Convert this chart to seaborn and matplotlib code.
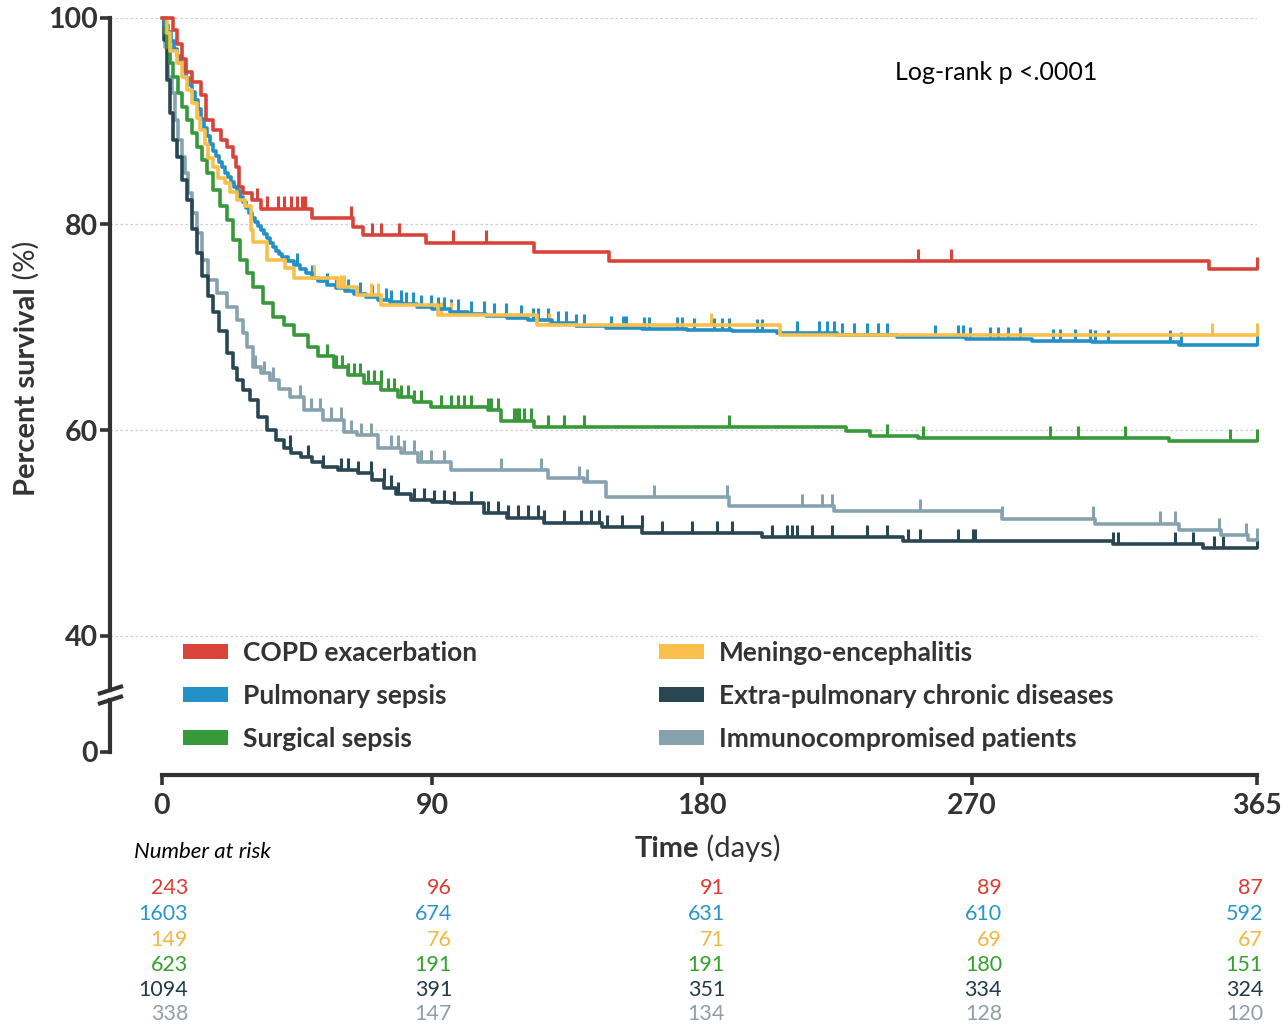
import numpy as np
import pandas as pd
import matplotlib
matplotlib.use("Agg")
import matplotlib.pyplot as plt
from matplotlib.patches import Patch
from matplotlib.lines import Line2D
import seaborn as sns

# ------------------------------------------------------------------ data
groups = ["COPD exacerbation", "Pulmonary sepsis", "Meningo-encephalitis",
          "Surgical sepsis", "Extra-pulmonary chronic diseases",
          "Immunocompromised patients"]
line_colors = ["#D9443A", "#2391C8", "#F8C04A", "#37993A", "#284753", "#87A2AF"]
text_colors = ["#DE3B32", "#2A95CB", "#F0B942", "#36A02E", "#213B47", "#939EA4"]

# Kaplan-Meier step curves (day, percent survival)
copd_t = [0, 3.5, 5, 6.5, 8, 10, 13, 14.5, 17, 19.5, 21.5, 23.5, 24.5, 25.5, 27,
          30, 33, 50, 63.5, 67, 88, 124, 149, 349, 365]
copd_s = [100, 98.8, 97.5, 96.0, 94.8, 93.8, 92.5, 90.1, 89.1, 88.2, 87.5, 86.5,
          85.5, 83.6, 83.0, 82.3, 81.5, 80.6, 79.7, 78.9, 78.2, 77.3, 76.4, 75.6, 75.6]
copd_cens = [31.8, 35, 38.5, 40.5, 43, 45, 46.8, 47.8, 63, 70, 73, 79, 97, 108,
             252, 263, 365]

pulm_t = [0, 1, 2, 3, 4, 5, 6, 7, 8, 9, 10, 11, 12, 13, 14, 15, 16, 17, 18, 19,
          20, 21, 22, 23, 24, 25, 26, 27, 28, 29, 30, 31, 32, 33, 34, 35, 36, 37,
          38, 39, 40, 42, 44, 46, 48, 50, 52, 55, 58, 61, 64, 68, 72, 76, 80, 85,
          90, 96, 102, 108, 115, 122, 130, 138, 148, 160, 175, 190, 205, 225, 245,
          268, 290, 310, 339, 365]
pulm_s = [100, 99.3, 98.6, 97.8, 97.0, 96.3, 95.6, 94.9, 94.2, 93.5, 92.8, 92.0,
          91.2, 90.2, 89.3, 88.5, 87.8, 87.1, 86.6, 86.0, 85.5, 85.0, 84.6, 84.1,
          83.6, 83.2, 82.6, 82.1, 81.6, 81.1, 80.6, 80.2, 79.8, 79.4, 79.0, 78.6,
          78.2, 77.8, 77.4, 77.1, 76.8, 76.4, 76.0, 75.6, 75.2, 74.8, 74.5, 74.1,
          73.8, 73.5, 73.2, 72.9, 72.6, 72.4, 72.2, 71.9, 71.7, 71.5, 71.3, 71.1,
          70.9, 70.7, 70.4, 70.1, 69.9, 69.8, 69.7, 69.6, 69.4, 69.2, 69.0, 68.8,
          68.6, 68.5, 68.3, 68.3]
pulm_cens = [45, 50, 55, 58, 62, 66, 70, 74.6, 76.3, 79.6, 81.3, 83.6, 86.3, 89.6,
             92, 94, 96.3, 98.7, 103, 107.4, 110.7, 114.7, 119.7, 123.7, 125.4,
             128.8, 132, 134.8, 138.1, 140.5, 149.8, 153.8, 154.8, 160.5, 162.2,
             171.6, 173.2, 177.2, 183.9, 186.6, 189, 198.3, 200, 211.7, 219, 221.7,
             224, 226.8, 230.8, 235.1, 238.5, 241.8, 257.5, 265.2, 266.9, 269.2,
             275.9, 278.6, 281.9, 286, 297.1, 299.4, 304.4, 309.4, 311.1, 315.4,
             336.1, 339.5, 365]

men_t = [0, 1.7, 2.7, 5, 6.7, 8.4, 10, 11.7, 12.7, 14.4, 15.4, 17, 18.7, 21, 22.7,
         25, 27.8, 29.5, 30.4, 35, 41, 44, 58.5, 65, 73, 92, 125, 206, 365]
men_s = [100, 98.5, 96.8, 95.6, 94.3, 93.0, 91.7, 90.3, 89.1, 87.8, 86.4, 85.5,
         84.5, 84.0, 83.1, 82.3, 81.7, 79.4, 78.3, 76.5, 75.7, 74.8, 73.9, 73.1,
         72.1, 71.2, 70.2, 69.2, 69.2]
men_cens = [50.5, 59.5, 60.5, 69.5, 72, 93, 96.3, 129, 183, 350, 365]

surg_t = [0, 1, 1.7, 2.7, 3.7, 5.4, 6.7, 8.4, 10, 11.7, 13.4, 15, 17, 19.4, 21.7,
          23.7, 26, 28.4, 30.4, 33.8, 37.1, 40.5, 44, 48.5, 52, 57.2, 62, 67.2, 73,
          78.6, 84, 89.6, 108.7, 113, 124, 228, 236, 252, 335.5, 365]
surg_s = [100, 98.5, 97.2, 95.6, 94.3, 92.7, 91.4, 90.1, 88.8, 87.5, 86.2, 85.0,
          83.3, 81.7, 80.4, 78.4, 76.5, 75.2, 73.9, 72.3, 71.0, 70.2, 69.2, 68.1,
          67.2, 66.1, 65.3, 64.6, 63.9, 63.2, 62.7, 62.2, 61.9, 60.9, 60.3, 59.9,
          59.4, 59.2, 58.9, 58.9]
surg_cens = [55, 58, 60, 62, 64, 66, 68.6, 70.6, 72.9, 75.3, 77.3, 79.6, 81.9, 84,
             86.3, 93, 96.3, 98.7, 100.7, 103, 108.7, 109.7, 112, 117.4, 118.2, 119,
             120.7, 123, 128.8, 134.1, 140.8, 189, 241.8, 253.5, 296, 305.4, 321,
             356, 365]

extra_t = [0, 0.5, 1.7, 2.7, 3.7, 5, 6.7, 8.4, 10, 11.7, 13.4, 15.4, 17, 19, 21.7,
           23.5, 25, 27, 29.4, 32, 35, 38, 40.5, 43, 46.2, 50, 53.8, 58.5, 65.2, 70,
           74, 78, 83, 90, 96.3, 107.4, 115, 127.4, 146.5, 160, 200, 247, 317, 347,
           365]
extra_s = [100, 97.9, 94.0, 90.8, 88.2, 86.5, 84.3, 82.3, 79.5, 77.2, 75.0, 73.0,
           71.5, 69.6, 67.5, 66.0, 64.9, 63.9, 62.9, 61.3, 60.0, 59.0, 58.3, 57.8,
           57.4, 56.9, 56.4, 56.1, 55.8, 55.1, 54.4, 53.8, 53.2, 53.0, 52.9, 51.9,
           51.5, 51.0, 50.6, 50.0, 49.6, 49.2, 48.9, 48.5, 48.5]
extra_cens = [42.8, 48.5, 53.8, 59.5, 61.9, 65.2, 69.6, 73.9, 76.3, 78.6, 84, 87.3,
              90.6, 94, 97.3, 103, 108.7, 112, 115.4, 118.7, 122, 125.4, 127.4,
              134.1, 139.8, 143.1, 145.5, 148.2, 153.2, 159.9, 166.6, 176.6, 185,
              190, 203.3, 208.4, 210, 211.7, 216.7, 223.4, 235.1, 241.8, 248.5,
              252.5, 265.2, 270.2, 270.9, 317, 318.7, 337.8, 343.8, 350.5, 353.8, 365]

immuno_t = [0, 1, 2, 3.3, 4.3, 5.4, 6.7, 7.7, 8.7, 10, 11.7, 13.4, 15.4, 18.4,
            21.7, 25, 27, 28.4, 30.4, 33, 36, 39, 42.8, 47.2, 53.8, 60.5, 65, 71.9,
            79.6, 85.3, 96.3, 128.8, 140.8, 148, 189, 224, 280, 311, 339, 353, 362,
            365]
immuno_s = [100, 97.2, 94.3, 92.7, 90.1, 88.2, 86.5, 85.0, 83.0, 81.1, 79.1, 76.5,
            74.6, 73.3, 71.9, 70.7, 69.4, 68.1, 66.1, 65.5, 64.9, 64.0, 63.2, 61.9,
            61.0, 59.8, 59.5, 58.3, 57.8, 56.9, 56.1, 55.3, 55.0, 53.5, 52.6, 52.1,
            51.4, 50.9, 50.3, 49.8, 49.3, 49.3]
immuno_cens = [31, 34, 37, 46, 49.5, 52.8, 56.2, 59.5, 62.9, 66.2, 69.6, 76.3, 78.6,
               80.6, 84, 86.3, 89.6, 94, 113, 126.4, 139, 141.5, 163.9, 188.3, 213.4,
               220, 223.4, 252.5, 280, 310.4, 332.8, 337.8, 352.2, 361.2, 365]

# Number at risk
risk_days = [0, 90, 180, 270, 365]
risk_copd = [243, 96, 91, 89, 87]
risk_pulm = [1603, 674, 631, 610, 592]
risk_men = [149, 76, 71, 69, 67]
risk_surg = [623, 191, 191, 180, 151]
risk_extra = [1094, 391, 351, 334, 324]
risk_immuno = [338, 147, 134, 128, 120]

x_ticks = [0, 90, 180, 270, 365]
y_ticks_top = [40, 60, 80, 100]
y_ticks_bottom = [0]
pvalue_label = "Log-rank p <.0001"

# ------------------------------------------------------------------ style
sns.set_theme(style="white")
FONT = "Lato"
plt.rcParams["font.family"] = [FONT, "DejaVu Sans"]
DARK = "#333333"

W, H = 1284, 1027
fig = plt.figure(figsize=(W / 100, H / 100), dpi=100)


def fx(px):
    return px / W


def fy(py):
    return 1 - py / H


# pixel layout
SPINE_X, ZERO_X, END_X = 110, 162, 1257
TOP_Y, TOPAX_BOT, BOTAX_TOP, ZERO_Y = 18, 690, 700, 752
PX_PER_PCT = 10.3
XAXIS_OFFSET_PX = 23

x_left = -(ZERO_X - SPINE_X) * 365 / (END_X - ZERO_X)

ax = fig.add_axes([fx(SPINE_X), fy(TOPAX_BOT), (END_X - SPINE_X) / W,
                   (TOPAX_BOT - TOP_Y) / H])
ax2 = fig.add_axes([fx(SPINE_X), fy(ZERO_Y), (END_X - SPINE_X) / W,
                    (ZERO_Y - BOTAX_TOP) / H])
for a in (ax, ax2):
    a.set_facecolor("none")
    a.set_xlim(x_left, 365)

ax.set_ylim(100 - (TOPAX_BOT - TOP_Y) / PX_PER_PCT, 100)
ax2.set_ylim(0, (ZERO_Y - BOTAX_TOP) / PX_PER_PCT)

# ------------------------------------------------------------------ curves
curve_t = [copd_t, pulm_t, men_t, surg_t, extra_t, immuno_t]
curve_s = [copd_s, pulm_s, men_s, surg_s, extra_s, immuno_s]
cens = [copd_cens, pulm_cens, men_cens, surg_cens, extra_cens, immuno_cens]
risks = [risk_copd, risk_pulm, risk_men, risk_surg, risk_extra, risk_immuno]
pal = dict(zip(groups, line_colors))

df = pd.concat([pd.DataFrame({"day": t, "surv": s, "group": g})
                for g, t, s in zip(groups, curve_t, curve_s)], ignore_index=True)

rows = []
for g, t, s, c in zip(groups, curve_t, curve_s, cens):
    t_arr, s_arr = np.asarray(t), np.asarray(s)
    idx = np.searchsorted(t_arr, np.asarray(c), side="right") - 1
    rows.append(pd.DataFrame({"day": c, "surv": s_arr[idx], "group": g}))
dfc = pd.concat(rows, ignore_index=True)

draw_order = ["Immunocompromised patients", "Extra-pulmonary chronic diseases",
              "Surgical sepsis", "Pulmonary sepsis", "Meningo-encephalitis",
              "COPD exacerbation"]

sns.scatterplot(data=dfc, x="day", y="surv", hue="group", hue_order=draw_order,
                palette=pal, marker=2, s=78, linewidth=2.2, legend=False, ax=ax,
                clip_on=False, zorder=2)
sns.lineplot(data=df, x="day", y="surv", hue="group", hue_order=draw_order,
             palette=pal, drawstyle="steps-post", estimator=None, sort=False,
             legend=False, linewidth=2.6, ax=ax, clip_on=False, zorder=3)

# ------------------------------------------------------------------ axes styling
for a in (ax, ax2):
    a.set_xlabel("")
    a.set_ylabel("")
    for side in ("top", "right"):
        a.spines[side].set_visible(False)
    a.spines["left"].set_linewidth(3.0)
    a.spines["left"].set_color(DARK)

ax.spines["bottom"].set_visible(False)
ax.set_xticks([])
ax.set_yticks(y_ticks_top)
ax.set_yticklabels([str(v) for v in y_ticks_top])
ax.yaxis.grid(True, linestyle=(0, (2, 2)), color="#cfcfcf", linewidth=0.9)
ax.xaxis.grid(False)
ax.set_axisbelow(True)

ax2.set_yticks(y_ticks_bottom)
ax2.set_yticklabels([str(v) for v in y_ticks_bottom])
ax2.grid(False)
ax2.spines["bottom"].set_position(("outward", XAXIS_OFFSET_PX * 0.72))
ax2.spines["bottom"].set_bounds(0, 365)
ax2.spines["bottom"].set_linewidth(3.0)
ax2.spines["bottom"].set_color(DARK)
ax2.set_xticks(x_ticks)
ax2.set_xticklabels([str(v) for v in x_ticks])

for a in (ax, ax2):
    a.tick_params(axis="y", direction="out", length=7, width=2.6, color=DARK,
                  labelsize=20.5, pad=1.5, labelcolor=DARK, left=True)
    for lab in a.get_yticklabels():
        lab.set_fontweight("bold")
ax2.tick_params(axis="x", direction="out", length=7, width=2.6, color=DARK,
                labelsize=20.5, pad=6, labelcolor=DARK, bottom=True)
for lab in ax2.get_xticklabels():
    lab.set_fontweight("bold")

# axis break marks
for yb in (TOPAX_BOT, BOTAX_TOP):
    fig.add_artist(Line2D([fx(SPINE_X - 12), fx(SPINE_X + 13)],
                          [fy(yb + 4), fy(yb - 4)], color=DARK, linewidth=3.0,
                          solid_capstyle="butt"))

# ------------------------------------------------------------------ legend
legend_order = [0, 1, 3, 2, 4, 5]
handles = [Patch(facecolor=line_colors[i], edgecolor="none") for i in legend_order]
labels = [groups[i] for i in legend_order]
fig.legend(handles, labels, ncol=2, loc="upper left",
           bbox_to_anchor=(fx(183), fy(641)), frameon=False,
           prop={"family": FONT, "weight": "bold", "size": 19},
           labelcolor=DARK, handlelength=1.7, handleheight=0.5,
           handletextpad=0.57, labelspacing=0.72, columnspacing=6.9,
           borderpad=0, borderaxespad=0)

# ------------------------------------------------------------------ texts
fig.text(fx(895), fy(72), pvalue_label, fontsize=18, color="black",
         ha="left", va="center")

renderer = fig.canvas.get_renderer()

# x label "Time (days)"
xl1 = fig.text(0, 0, "Time", fontsize=21, fontweight="bold", color=DARK,
               va="baseline", ha="left")
xl2 = fig.text(0, 0, " (days)", fontsize=21, color=DARK, va="baseline", ha="left")
w1 = xl1.get_window_extent(renderer).width
w2 = xl2.get_window_extent(renderer).width
cx = 708
start = cx - (w1 + w2) / 2
xl1.set_position((fx(start), fy(857)))
xl2.set_position((fx(start + w1), fy(857)))

# y label "Percent survival (%)"
yl1 = fig.text(0, 0, "Percent survival", fontsize=21, fontweight="bold",
               color=DARK, rotation=90, rotation_mode="anchor",
               ha="left", va="baseline")
yl2 = fig.text(0, 0, " (%)", fontsize=21, color=DARK, rotation=90,
               rotation_mode="anchor", ha="left", va="baseline")
h1 = yl1.get_window_extent(renderer).height
h2 = yl2.get_window_extent(renderer).height
cy = 368
ystart = cy + (h1 + h2) / 2
yl1.set_position((fx(35), fy(ystart)))
yl2.set_position((fx(35), fy(ystart - h1)))

# Number at risk table
fig.text(fx(134), fy(852), "Number at risk", fontsize=16, style="italic",
         color="black", ha="left", va="center")
row_y = [888, 914, 940, 965, 990, 1014]
col_right_px = [188, 452, 725, 1002, 1263]
for r, (vals, col) in enumerate(zip(risks, text_colors)):
    for v, px in zip(vals, col_right_px):
        fig.text(fx(px), fy(row_y[r]), str(v), fontsize=15.5, color=col,
                 ha="right", va="center")

fig.savefig("out.png", dpi=100)
